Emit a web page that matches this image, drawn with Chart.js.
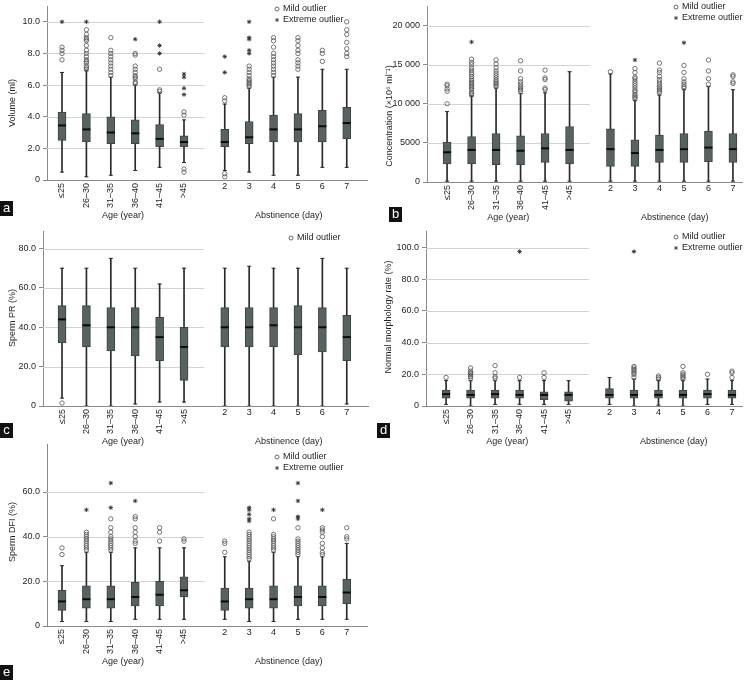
<!DOCTYPE html>
<html>
<head>
<meta charset="utf-8">
<script src="https://cdn.jsdelivr.net/npm/chart.js@4.4.0/dist/chart.umd.min.js"></script>
<style>
  body { margin: 0; background: #fff; }
  #fig { position: relative; width: 754px; height: 681px; overflow: hidden; }
  #fig canvas { position: absolute; }
</style>
</head>
<body>
<div id="fig">
  <canvas id="chart-a" width="377" height="225" style="left:0;top:0"></canvas>
  <canvas id="chart-b" width="377" height="225" style="left:377px;top:0"></canvas>
  <canvas id="chart-c" width="377" height="230" style="left:0;top:225px"></canvas>
  <canvas id="chart-d" width="377" height="230" style="left:377px;top:225px"></canvas>
  <canvas id="chart-e" width="377" height="243" style="left:0;top:438px"></canvas>
</div>
<script>
// Categories
const ageGroups = ["≤25", "26–30", "31–35", "36–40", "41–45", ">45"];
const abstinenceDays = ["2", "3", "4", "5", "6", "7"];

// Box stats per group: [lower whisker, Q1, median, Q3, upper whisker]
// a) Volume (ml)
const volumeTicks = [0, 2, 4, 6, 8, 10];
const volumeAgeBox = [
  [0.5, 2.5, 3.45, 4.3, 6.8], [0.2, 2.4, 3.2, 4.2, 6.9], [0.3, 2.3, 3.0, 4.0, 6.5],
  [0.6, 2.3, 2.95, 3.8, 6.0], [0.8, 2.1, 2.6, 3.5, 5.5], [1.1, 2.1, 2.4, 2.8, 3.8],
];
const volumeAgeMild = [
  [7.6, 8.0, 8.2, 8.4],
  [7.0, 7.1, 7.2, 7.4, 7.5, 7.6, 7.8, 8.0, 8.2, 8.5, 8.8, 8.9, 9.0, 9.2, 9.5],
  [6.6, 6.8, 7.0, 7.2, 7.4, 7.6, 7.8, 8.0, 8.2, 9.0],
  [6.1, 6.2, 6.4, 6.5, 6.6, 6.8, 7.0, 7.2, 7.9, 8.0],
  [5.6, 5.7, 7.0],
  [0.5, 0.7, 4.1, 4.3],
];
const volumeAgeExtreme = [[10.0], [10.0], [], [8.9], [8.0, 8.5, 10.0], [5.4, 5.8, 6.5, 6.7]];
const volumeAbstBox = [
  [0.6, 2.1, 2.4, 3.2, 4.8], [0.5, 2.3, 2.7, 3.7, 5.8], [0.3, 2.4, 3.2, 4.1, 6.5],
  [0.3, 2.4, 3.2, 4.2, 6.5], [0.8, 2.4, 3.4, 4.4, 7.0], [0.8, 2.6, 3.6, 4.6, 7.0],
];
const volumeAbstMild = [
  [0.2, 0.4, 5.0, 5.2],
  [5.9, 6.0, 6.1, 6.2, 6.3, 6.4, 6.6, 6.8, 7.0, 7.2],
  [6.6, 6.8, 7.0, 7.2, 7.4, 7.6, 7.8, 8.0, 8.4, 8.8, 9.0],
  [7.0, 7.2, 7.4, 7.6, 8.0, 8.2, 8.5, 8.8, 9.0],
  [7.5, 8.0, 8.2],
  [7.8, 8.0, 8.3, 8.7, 9.2, 9.5, 10.0],
];
const volumeAbstExtreme = [[6.8, 7.8], [8.0, 8.2, 8.9, 9.0, 10.0], [], [], [], []];

// b) Concentration
const concTicks = [0, 5000, 10000, 15000, 20000];
const concAgeBox = [
  [100, 2300, 3800, 5100, 9000], [100, 2300, 4100, 5800, 11000], [100, 2200, 4100, 6200, 12000],
  [100, 2200, 4000, 5900, 11300], [100, 2500, 4300, 6200, 11400], [100, 2300, 4100, 7100, 14100],
];
const concAgeMild = [
  [10000, 11600, 11900, 12300, 12500],
  [11100, 11300, 11500, 11800, 12000, 12200, 12400, 12600, 12800, 13000, 13200, 13500, 13800, 14000, 14300, 14600, 15000, 15300, 15700],
  [12200, 12400, 12600, 12800, 13000, 13300, 13600, 13900, 14200, 14600, 15100, 15600],
  [11600, 11800, 12000, 12200, 12500, 12800, 13200, 14200, 15500],
  [11800, 12000, 13100, 13300, 14300],
  [],
];
const concAgeExtreme = [[], [17900], [], [], [], []];
const concAbstBox = [
  [100, 2000, 4200, 6800, 13800], [100, 2000, 3700, 5400, 10400], [100, 2500, 4100, 6000, 11100],
  [100, 2500, 4200, 6200, 11800], [100, 2600, 4400, 6500, 12200], [100, 2500, 4200, 6200, 11800],
];
const concAbstMild = [
  [14100],
  [10600, 10800, 11000, 11200, 11500, 11700, 12000, 12300, 12600, 12900, 13200, 13400, 14000, 14500],
  [11400, 11600, 11800, 12000, 12200, 12500, 12800, 13100, 13500, 14000, 14300, 15200],
  [12000, 12200, 12500, 12800, 13200, 14000, 14900],
  [12500, 13200, 14200, 15600],
  [12600, 12800, 13500, 13700],
];
const concAbstExtreme = [[], [15600], [], [17800], [], []];

// c) Sperm PR (%)
const prTicks = [0, 20, 40, 60, 80];
const prAgeBox = [
  [4, 32, 44, 51, 70], [0, 30, 41, 51, 70], [0, 28, 40, 50, 75],
  [1, 25.5, 40, 50, 70], [2, 23, 35, 45, 62], [2, 13, 30, 40, 70],
];
const prAgeMild = [[1.5], [], [], [], [], []];
const prAbstBox = [
  [0, 30, 40, 50, 70], [0, 30, 40, 50, 71], [0, 30, 41, 50, 70],
  [0, 26, 40, 51, 70], [0, 27.5, 40, 50, 75], [1, 23, 35, 46, 70],
];
const prAbstMild = [[], [], [], [], [], []];

// d) Normal morphology rate (%)
const morphTicks = [0, 20, 40, 60, 80, 100];
const morphAgeBox = [
  [1, 5, 7.5, 10, 16], [0, 5, 7, 10, 16], [1, 5, 7.5, 10, 16],
  [1, 5, 7, 10, 16], [1, 4, 7, 9, 16], [1, 3, 7, 9, 16],
];
const morphAgeMild = [[18], [17.5, 18.5, 19.5, 20.5, 21, 22, 24], [17.5, 18.5, 21, 25.5], [18], [18, 21], []];
const morphAgeExtreme = [[], [], [], [97.5], [], []];
const morphAbstBox = [
  [1, 5, 7, 11, 18], [0, 5, 7, 10, 17], [0.5, 5, 7, 10, 16],
  [0, 5, 7, 10, 16], [1, 5, 7.5, 10, 17], [1, 5, 7, 10, 16],
];
const morphAbstMild = [[], [18, 20, 21, 22, 23, 24, 25], [17, 18, 19], [17, 18, 19, 20, 21, 25], [20], [18, 21, 22]];
const morphAbstExtreme = [[], [97.5], [], [], [], []];

// e) Sperm DFI (%)
const dfiTicks = [0, 20, 40, 60];
const dfiAgeBox = [
  [2, 7, 11, 16, 27], [2, 8, 12, 18, 33], [2, 8, 12, 18, 33],
  [3, 9, 13, 19.5, 35], [3, 9, 14, 20, 35], [3, 13, 16, 22, 35],
];
const dfiAgeMild = [
  [32, 35],
  [34, 35, 36, 37, 38, 39, 40, 41, 42],
  [34, 35, 36, 37, 38, 39, 40, 42, 44, 48],
  [37, 38, 40, 42, 44, 48, 49],
  [38, 42, 44],
  [38, 39],
];
const dfiAgeExtreme = [[], [52], [53, 64], [56], [], []];
const dfiAbstBox = [
  [3, 7, 11, 17, 31], [2, 8, 12, 17, 29], [2, 8, 12, 18, 33],
  [3, 9, 13, 18, 31], [3, 9, 13, 18, 31], [3, 10, 15, 21, 37],
];
const dfiAbstMild = [
  [33, 37, 38],
  [30, 31, 32, 33, 34, 35, 36, 37, 38, 39, 40, 41, 42],
  [34, 35, 36, 37, 38, 39, 40, 41, 48],
  [32, 33, 34, 35, 36, 37, 38, 39, 44],
  [32, 33, 35, 37, 40, 42, 43, 44],
  [39, 40, 44],
];
const dfiAbstExtreme = [[], [47, 48, 50, 52, 53], [52], [48, 49, 56, 64], [52], []];

// Gap between the age block and the abstinence block (in category steps)
const GAP = 1.67;
const FONT = '"Liberation Sans", Arial, sans-serif';
const INK = "#1e1e1e";

const fmtOne = (v) => (v === 0 ? "0" : v.toFixed(1));
const fmtThousands = (v) =>
  v === 0 ? "0" : v >= 10000 ? String(v).replace(/\B(?=(\d{3})+(?!\d))/g, " ") : String(v);

const panels = [
  {
    id: "chart-a", letter: "a", yTitle: "Volume (ml)", yMax: 11, yTicks: volumeTicks, fmt: fmtOne,
    ageBox: volumeAgeBox, ageMild: volumeAgeMild, ageExtreme: volumeAgeExtreme,
    abstBox: volumeAbstBox, abstMild: volumeAbstMild, abstExtreme: volumeAbstExtreme,
    legend: ["mild", "extreme"],
    axisX: 47, axisRight: 367, axisY: 180, top: 0, xMin: -0.615, xMax: 12.5,
    titleX: 13, titleY: 103, legendX: 277, legendY: 9, letterX: 0, letterY: 201,
  },
  {
    id: "chart-b", letter: "b", yTitle: "Concentration (×10⁶ ml⁻¹)", yMax: 22500, yTicks: concTicks, fmt: fmtThousands,
    ageBox: concAgeBox, ageMild: concAgeMild, ageExtreme: concAgeExtreme,
    abstBox: concAbstBox, abstMild: concAbstMild, abstExtreme: concAbstExtreme,
    legend: ["mild", "extreme"],
    axisX: 50, axisRight: 365, axisY: 182, top: 0, xMin: -0.82, xMax: 12.04,
    titleX: 13, titleY: 116, legendX: 299, legendY: 7, letterX: 12, letterY: 207,
  },
  {
    id: "chart-c", letter: "c", yTitle: "Sperm PR (%)", yMax: 88.9, yTicks: prTicks, fmt: fmtOne,
    ageBox: prAgeBox, ageMild: prAgeMild, ageExtreme: [[], [], [], [], [], []],
    abstBox: prAbstBox, abstMild: prAbstMild, abstExtreme: [[], [], [], [], [], []],
    legend: ["mild"],
    axisX: 43, axisRight: 368, axisY: 181, top: 1, xMin: -0.78, xMax: 12.54,
    titleX: 13, titleY: 93, legendX: 291, legendY: 13, letterX: 0, letterY: 198,
  },
  {
    id: "chart-d", letter: "d", yTitle: "Normal morphology rate (%)", yMax: 110.5, yTicks: morphTicks, fmt: fmtOne,
    ageBox: morphAgeBox, ageMild: morphAgeMild, ageExtreme: morphAgeExtreme,
    abstBox: morphAbstBox, abstMild: morphAbstMild, abstExtreme: morphAbstExtreme,
    legend: ["mild", "extreme"],
    axisX: 49, axisRight: 365, axisY: 181, top: 2, xMin: -0.82, xMax: 12.08,
    titleX: 12, titleY: 92, legendX: 299, legendY: 12, letterX: 0, letterY: 198,
  },
  {
    id: "chart-e", letter: "e", yTitle: "Sperm DFI (%)", yMax: 81.5, yTicks: dfiTicks, fmt: fmtOne,
    ageBox: dfiAgeBox, ageMild: dfiAgeMild, ageExtreme: dfiAgeExtreme,
    abstBox: dfiAbstBox, abstMild: dfiAbstMild, abstExtreme: dfiAbstExtreme,
    legend: ["mild", "extreme"],
    axisX: 47, axisRight: 367, axisY: 188, top: 0, xMin: -0.615, xMax: 12.5,
    titleX: 13, titleY: 94, legendX: 277, legendY: 19, letterX: 0, letterY: 227,
  },
];

const legendItems = {
  mild: { text: "Mild outlier", style: "circle" },
  extreme: { text: "Extreme outlier", style: "star" },
};

const ageX = (i) => i;
const abstX = (i) => ageGroups.length - 1 + GAP + i;

function groupsOf(p) {
  const g = [];
  p.ageBox.forEach((s, i) => g.push({ x: ageX(i), s, mild: p.ageMild[i], ext: p.ageExtreme[i] }));
  p.abstBox.forEach((s, i) => g.push({ x: abstX(i), s, mild: p.abstMild[i], ext: p.abstExtreme[i] }));
  return g;
}

function buildDatasets(p) {
  const g = groupsOf(p);
  return [
    {
      type: "bar", order: 6, grouped: false, barThickness: 1, borderSkipped: false,
      backgroundColor: "#2a2a2a",
      data: g.map((d) => ({ x: d.x, y: [d.s[0], d.s[4]] })),
    },
    {
      type: "bar", order: 5, grouped: false, barThickness: 8, borderSkipped: false,
      backgroundColor: "#58625f", borderColor: "#3c4341", borderWidth: 1,
      data: g.map((d) => ({ x: d.x, y: [d.s[1], d.s[3]] })),
    },
    {
      type: "scatter", order: 4, pointStyle: "line", pointRadius: 2, borderColor: "#2a2a2a", borderWidth: 1,
      data: g.flatMap((d) => [{ x: d.x, y: d.s[0] }, { x: d.x, y: d.s[4] }]),
    },
    {
      type: "scatter", order: 3, pointStyle: "line", pointRadius: 4, borderColor: "#0c0c0c", borderWidth: 2,
      data: g.map((d) => ({ x: d.x, y: d.s[2] })),
    },
    {
      type: "scatter", order: 2, pointStyle: "circle", pointRadius: 2.2, borderWidth: 0.8,
      borderColor: "#555", backgroundColor: "rgba(255,255,255,0)",
      data: g.flatMap((d) => d.mild.map((v) => ({ x: d.x, y: v }))),
    },
    {
      type: "scatter", order: 1, pointStyle: "star", pointRadius: 2.2, borderWidth: 0.9,
      borderColor: "#333", backgroundColor: "#333",
      data: g.flatMap((d) => d.ext.map((v) => ({ x: d.x, y: v }))),
    },
  ];
}

// Grid lines (age block only), category labels, titles, legend and panel letter
function makeDecor(p) {
  return {
    id: "decor",
    beforeDatasetsDraw(chart) {
      const { ctx, chartArea, scales } = chart;
      const gridEnd = scales.x.getPixelForValue(ageGroups.length - 1 + GAP / 2);
      ctx.save();
      ctx.strokeStyle = "#d3d3d3";
      ctx.lineWidth = 1;
      p.yTicks.forEach((v) => {
        if (v === 0) return;
        const py = Math.round(scales.y.getPixelForValue(v)) + 0.5;
        ctx.beginPath();
        ctx.moveTo(chartArea.left, py);
        ctx.lineTo(gridEnd, py);
        ctx.stroke();
      });
      ctx.restore();
    },
    afterDraw(chart) {
      const { ctx, chartArea, scales } = chart;
      const x = scales.x;
      const bottom = chartArea.bottom;
      ctx.save();
      ctx.fillStyle = INK;
      ctx.font = "9px " + FONT;

      // rotated age labels
      ageGroups.forEach((lab, i) => {
        ctx.save();
        ctx.translate(x.getPixelForValue(ageX(i)), bottom + 3);
        ctx.rotate(-Math.PI / 2);
        ctx.textAlign = "right";
        ctx.textBaseline = "middle";
        ctx.fillText(lab, 0, 0);
        ctx.restore();
      });
      // horizontal abstinence labels
      ctx.textAlign = "center";
      ctx.textBaseline = "middle";
      abstinenceDays.forEach((lab, i) => {
        ctx.fillText(lab, x.getPixelForValue(abstX(i)), bottom + 7);
      });

      // block titles
      const ageMid = (x.getPixelForValue(ageX(0)) + x.getPixelForValue(ageX(ageGroups.length - 1))) / 2;
      const abstMid = (x.getPixelForValue(abstX(0)) + x.getPixelForValue(abstX(abstinenceDays.length - 1))) / 2;
      ctx.fillText("Age (year)", ageMid, bottom + 36);
      ctx.fillText("Abstinence (day)", abstMid + 3, bottom + 36);

      // y title
      ctx.save();
      ctx.translate(p.titleX, p.titleY);
      ctx.rotate(-Math.PI / 2);
      ctx.fillText(p.yTitle, 0, 0);
      ctx.restore();

      // legend
      p.legend.forEach((key, k) => {
        const item = legendItems[key];
        const ly = p.legendY + k * 11;
        ctx.strokeStyle = "#444";
        ctx.fillStyle = "rgba(255,255,255,0)";
        ctx.lineWidth = 0.8;
        Chart.helpers.drawPoint(ctx, { pointStyle: item.style, radius: 2, borderWidth: 0.8, rotation: 0 }, p.legendX, ly);
        ctx.fillStyle = INK;
        ctx.textAlign = "left";
        ctx.fillText(item.text, p.legendX + 6, ly);
      });

      // panel letter
      ctx.fillStyle = "#111";
      ctx.fillRect(p.letterX, p.letterY, 13, 15);
      ctx.fillStyle = "#fff";
      ctx.font = "13px " + FONT;
      ctx.textAlign = "center";
      ctx.textBaseline = "middle";
      ctx.fillText(p.letter, p.letterX + 6.5, p.letterY + 7);
      ctx.restore();
    },
  };
}

panels.forEach((p) => {
  const canvas = document.getElementById(p.id);
  const W = canvas.width;
  const H = canvas.height;
  new Chart(canvas, {
    type: "bar",
    data: { datasets: buildDatasets(p) },
    options: {
      responsive: false,
      animation: false,
      events: [],
      layout: { padding: { left: 0, right: W - p.axisRight, top: p.top, bottom: 0 } },
      plugins: { legend: { display: false }, tooltip: { enabled: false } },
      scales: {
        x: {
          type: "linear",
          offset: false,
          min: p.xMin,
          max: p.xMax,
          ticks: { display: false },
          grid: { display: false },
          border: { color: "#8a8a8a" },
          afterFit(s) {
            s.height = H - p.axisY;
            s.paddingLeft = 0;
            s.paddingRight = 0;
          },
        },
        y: {
          type: "linear",
          min: 0,
          max: p.yMax,
          afterBuildTicks(s) {
            s.ticks = p.yTicks.map((v) => ({ value: v }));
          },
          ticks: { callback: (v) => p.fmt(v), font: { family: FONT, size: 9 }, color: INK, padding: 3 },
          grid: { drawOnChartArea: false, tickLength: 4, color: "#8a8a8a" },
          border: { color: "#8a8a8a" },
          afterFit(s) {
            s.width = p.axisX;
            s.paddingTop = 0;
            s.paddingBottom = 0;
          },
        },
      },
    },
    plugins: [makeDecor(p)],
  });
});
</script>
</body>
</html>
